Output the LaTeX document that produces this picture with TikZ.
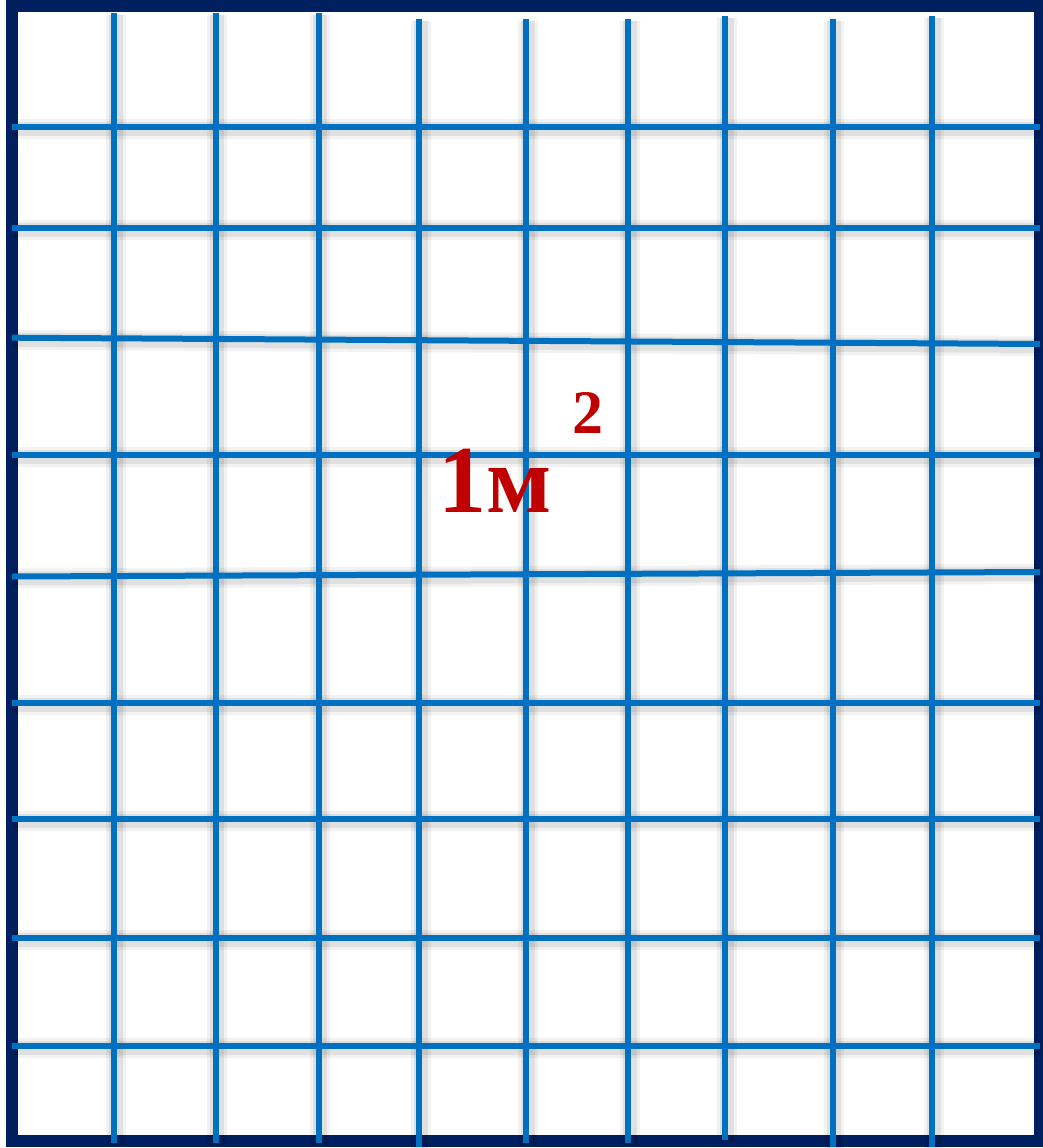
\documentclass[tikz,border=0pt]{standalone}
\usepackage{fontspec}
\setmainfont{Liberation Serif}
\definecolor{gridblue}{HTML}{0070C0}
\definecolor{navyframe}{HTML}{001F5F}
\definecolor{darkred}{HTML}{C00000}
\begin{document}
\begin{tikzpicture}[x=1pt,y=-1pt,
  gridline/.style={draw=gridblue,line width=6pt},
  shadowwide/.style={draw=black,opacity=0.05,line width=20pt},
  shadowmid/.style={draw=black,opacity=0.07,line width=14pt},
  frameline/.style={draw=navyframe,line width=12pt},
  redtext/.style={text=darkred,inner sep=0pt,anchor=base west}]
\useasboundingbox (0,0) rectangle (1043,1148);
\clip (0,0) rectangle (1043,1148);
\fill[white] (0,0) rectangle (1043,1148);
% frame
\draw[frameline] (12,6) rectangle (1040,1141);
% shadows
\begin{scope}[shift={(1.5,2)}]
\foreach \x/\t/\b in {114.3/13/1143, 215.7/13/1143, 318.7/13/1143, 419/19/1147, 526.3/19/1143, 628.3/19/1143, 725.3/16/1140, 832.7/19/1147, 932/16/1146.7}{
  \draw[shadowwide] (\x,\t) -- (\x,\b);
  \draw[shadowmid] (\x,\t) -- (\x,\b);
}
\foreach \l/\r in {126.7/126.7, 228/228, 337.7/344, 455/455, 576.5/572, 703/703, 819/819, 938/938, 1045.7/1045.7}{
  \draw[shadowwide] (12,\l) -- (1040,\r);
  \draw[shadowmid] (12,\l) -- (1040,\r);
}
\end{scope}
% grid lines
\foreach \x/\t/\b in {114.3/13/1143, 215.7/13/1143, 318.7/13/1143, 419/19/1147, 526.3/19/1143, 628.3/19/1143, 725.3/16/1140, 832.7/19/1147, 932/16/1146.7}{
  \draw[gridline] (\x,\t) -- (\x,\b);
}
\foreach \l/\r in {126.7/126.7, 228/228, 337.7/344, 455/455, 576.5/572, 703/703, 819/819, 938/938, 1045.7/1045.7}{
  \draw[gridline] (12,\l) -- (1040,\r);
}
% label
\node[redtext,font=\bfseries\fontsize{96}{96}\selectfont] (area) at (438,512) {1м};
\node[redtext,font=\bfseries\fontsize{62}{62}\selectfont] (sq) at (572,433) {2};
\end{tikzpicture}
\end{document}
